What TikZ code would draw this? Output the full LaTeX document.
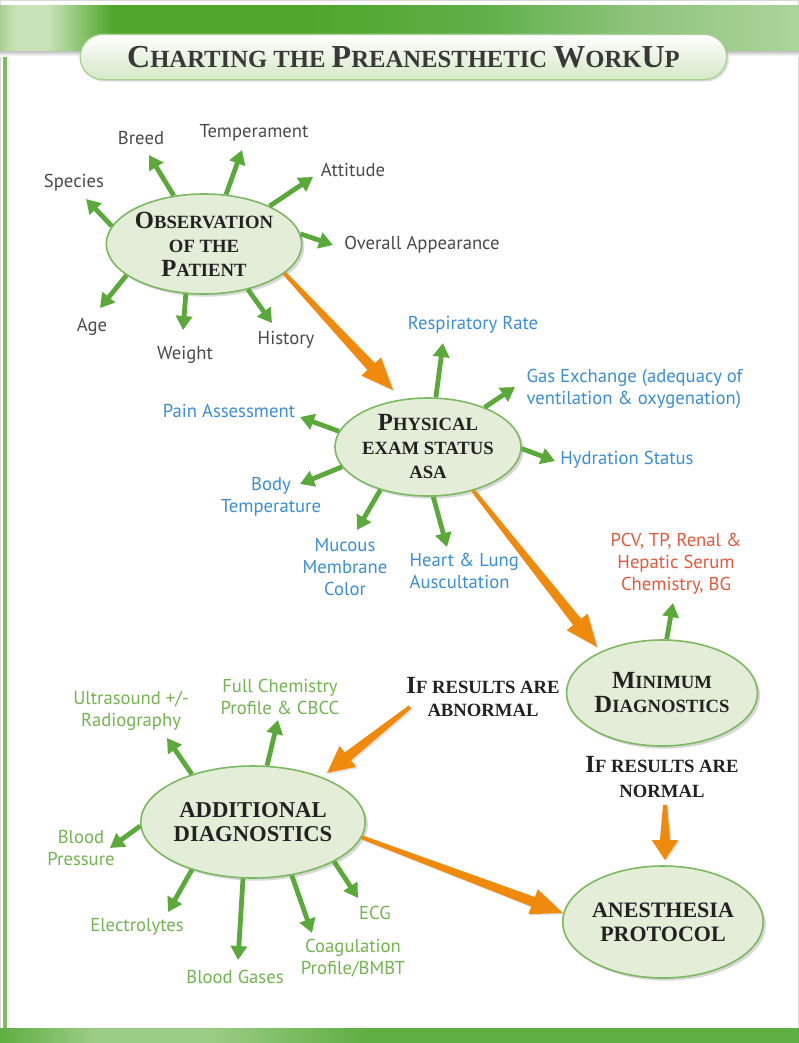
\documentclass[tikz,border=0pt]{standalone}
\usepackage{fontspec}
\setmainfont{Liberation Serif}
\newfontfamily\lblfont{PT Sans}
\usetikzlibrary{arrows.meta,calc,shadows,shapes.geometric}

\definecolor{gArrow}{HTML}{5BA83B}
\definecolor{oArrow}{HTML}{F08A0C}
\definecolor{ellFill}{HTML}{E3EDD7}
\definecolor{ellLine}{HTML}{7DB862}
\definecolor{txtGray}{HTML}{4A4A4A}
\definecolor{txtBlue}{HTML}{3C8FD4}
\definecolor{txtRed}{HTML}{E25A3C}
\definecolor{txtGreen}{HTML}{73B550}
\definecolor{hdText}{HTML}{222222}
\definecolor{leftLine}{HTML}{7BBF5C}
\definecolor{titleG}{HTML}{D6E8C6}
\definecolor{titleLine}{HTML}{A9CF95}
\definecolor{bandL}{HTML}{A8CF92}
\definecolor{bandLL}{HTML}{C9E3B8}
\definecolor{bandD}{HTML}{4FA62A}
\definecolor{bandM}{HTML}{5EAF48}
\definecolor{bandR}{HTML}{8FC47C}
\definecolor{bandRR}{HTML}{ACD59C}
\definecolor{bbA}{HTML}{5FAE42}
\definecolor{bbB}{HTML}{9CCD86}

\pgfdeclarehorizontalshading{topband}{100bp}{color(0bp)=(bandL); color(25bp)=(bandL); color(26bp)=(bandLL); color(28bp)=(bandLL); color(32bp)=(bandD); color(44bp)=(bandD); color(55bp)=(bandM); color(65bp)=(bandR); color(75bp)=(bandRR); color(100bp)=(bandRR)}
\pgfdeclarehorizontalshading{botband}{100bp}{color(0bp)=(bbA); color(25bp)=(bbA); color(31bp)=(bbB); color(38bp)=(bbB); color(48bp)=(bbA); color(75bp)=(bbA); color(100bp)=(bbA)}

\newcommand\Bg[2][18.5]{{\fontsize{#1}{18}\selectfont #2}}
\newcommand\oarr[4]{%
  \coordinate (#4h) at ($(#2)!#3!(#1)$);
  \fill[oArrow, drop shadow={opacity=0.2, shadow xshift=1.2pt, shadow yshift=-1.2pt}]
    ($(#1)!1.5pt!90:(#2)$) -- ($(#4h)!3.8pt!90:(#2)$) -- ($(#4h)!10pt!90:(#2)$) -- (#2)
    -- ($(#4h)!10pt!-90:(#2)$) -- ($(#4h)!3.8pt!-90:(#2)$) -- ($(#1)!1.5pt!-90:(#2)$) -- cycle;}

\tikzset{
  ell/.style={ellipse, draw=ellLine, line width=1.2pt, fill=ellFill, inner sep=0pt, align=center,
    text=hdText, font=\bfseries\fontsize{14}{18}\selectfont,
    drop shadow={opacity=0.3, shadow xshift=2pt, shadow yshift=-2pt}},
  hdlabel/.style={align=center, text=hdText, font=\bfseries\fontsize{14}{17.5}\selectfont, inner sep=1pt},
  lbl/.style={font=\lblfont\fontsize{14}{16.5}\selectfont, inner sep=1pt, align=center},
  lblG/.style={lbl, text=txtGray},
  lblB/.style={lbl, text=txtBlue},
  lblR/.style={lbl, text=txtRed},
  lblN/.style={lbl, text=txtGreen},
  garr/.style={draw=gArrow, line width=3.6pt, -{Triangle[length=10.5pt,width=12pt]}},
}

\begin{document}
\begin{tikzpicture}[x=0.75pt, y=-0.75pt]
\useasboundingbox (0,0) rectangle (799,1043);
\fill[white] (0,0) rectangle (799,1043);
\draw[black!15, line width=1pt] (0.5,0.5) rectangle (798.5,1042.5);
% frame
\fill[leftLine] (3,5) rectangle (7,1030);
\shade[top color=black!30, bottom color=white] (0,50) rectangle (799,56);
\shade[shading=topband] (0,5) rectangle (799,50);
\shade[shading=botband] (0,1028) rectangle (799,1043);

% title
\node[draw=titleLine, line width=1pt, rounded corners=17pt, top color=white, bottom color=titleG,
  minimum width=485pt, minimum height=34pt, inner sep=0pt, text=hdText!90!white,
  font=\bfseries\fontsize{18.5}{22}\selectfont,
  drop shadow={opacity=0.25, shadow xshift=1.5pt, shadow yshift=-1.5pt}] (title) at (403.5,57)
  {\Bg[24]{C}HARTING THE \Bg[24]{P}REANESTHETIC \Bg[24]{W}ORK\Bg[24]{U}P};

% main ellipses
\node[ell, minimum width=133.5pt, minimum height=75pt] (obs) at (204,244)
  {\Bg{O}BSERVATION\\OF THE\\\Bg{P}ATIENT};
\node[ell, minimum width=120pt, minimum height=73.5pt] (phys) at (428,447)
  {\Bg{P}HYSICAL\\EXAM STATUS\\ASA};
\node[ell, minimum width=135pt, minimum height=79.5pt] (mind) at (662,693)
  {\Bg{M}INIMUM\\\Bg{D}IAGNOSTICS};
\node[ell, minimum width=150pt, minimum height=84pt, font=\bfseries\fontsize{17}{17.5}\selectfont] (add) at (253,822)
  {ADDITIONAL\\DIAGNOSTICS};
\node[ell, minimum width=135pt, minimum height=84pt, font=\bfseries\fontsize{16.5}{18}\selectfont] (anes) at (663,922)
  {ANESTHESIA\\PROTOCOL};

\node[hdlabel] (abn) at (483,697) {\Bg{I}F RESULTS ARE\\ABNORMAL};
\node[hdlabel, font=\bfseries\fontsize{14}{18.5}\selectfont] (norm) at (662,777) {\Bg{I}F RESULTS ARE\\NORMAL};

% observation labels
\node[lblG] (species) at (74,183) {Species};
\node[lblG] (breed) at (141,138) {Breed};
\node[lblG] (temper) at (254,133) {Temperament};
\node[lblG] (attitude) at (353,170) {Attitude};
\node[lblG] (overall) at (422,245) {Overall Appearance};
\node[lblG] (age) at (92,327) {Age};
\node[lblG] (weight) at (185,355) {Weight};
\node[lblG] (history) at (286,340) {History};

\coordinate (tSpecies) at (86,199);
\coordinate (tBreed) at (149,155);
\coordinate (tTemper) at (242,150);
\coordinate (tAttitude) at (313,177);
\coordinate (tOverall) at (333,245);
\coordinate (tHistory) at (272,323);
\coordinate (tWeight) at (183,330);
\coordinate (tAge) at (100,308);

\draw[garr] (obs.169) -- (tSpecies);
\draw[garr] (obs.122) -- (tBreed);
\draw[garr] (obs.66) -- (tTemper);
\draw[garr] (obs.30) -- (tAttitude);
\draw[garr] (obs.6) -- (tOverall);
\draw[garr] (obs.-46) -- (tHistory);
\draw[garr] (obs.-110) -- (tWeight);
\draw[garr] (obs.-158) -- (tAge);

% physical labels
\node[lblB] (resp) at (473,325) {Respiratory Rate};
\node[lblB, anchor=west, align=left] (gas) at (525,389) {Gas Exchange (adequacy of\\ventilation \& oxygenation)};
\node[lblB] (hyd) at (627,460) {Hydration Status};
\node[lblB] (pain) at (229,411) {Pain Assessment};
\node[lblB] (body) at (271,497) {Body\\Temperature};
\node[lblB] (mucous) at (345,567) {Mucous\\Membrane\\Color};
\node[lblB, anchor=west, align=left] (heart) at (408,571) {Heart \& Lung\\Auscultation};

\coordinate (tResp) at (443,343);
\coordinate (tGas) at (515,387);
\coordinate (tHyd) at (555,461);
\coordinate (tPain) at (300,417);
\coordinate (tBody) at (300,484);
\coordinate (tMucous) at (357,530);
\coordinate (tHeart) at (447,547);

\draw[garr] (phys.81) -- (tResp);
\draw[garr] (phys.35) -- (tGas);
\draw[garr] (phys.-1) -- (tHyd);
\draw[garr] (phys.170) -- (tPain);
\draw[garr] (phys.-167) -- (tBody);
\draw[garr] (phys.-138) -- (tMucous);
\draw[garr] (phys.-84) -- (tHeart);

% minimum
\node[lblR] (pcv) at (676,564) {PCV, TP, Renal \&\\Hepatic Serum\\Chemistry, BG};
\coordinate (tPcv) at (673,603);
\draw[garr] (mind.85) -- (tPcv);

% additional labels
\node[lblN] (ultra) at (131,711) {Ultrasound +/-\\Radiography};
\node[lblN] (fullchem) at (280,697) {Full Chemistry\\Profile \& CBCC};
\node[lblN] (bp) at (81,848) {Blood\\Pressure};
\node[lblN] (electro) at (137,927) {Electrolytes};
\node[lblN] (gases) at (235,977) {Blood Gases};
\node[lblN] (coag) at (353,958) {Coagulation\\Profile/BMBT};
\node[lblN] (ecg) at (375,913) {ECG};

\coordinate (tUltra) at (167,738);
\coordinate (tFull) at (278,720);
\coordinate (tBp) at (110,848);
\coordinate (tElectro) at (168,912);
\coordinate (tGases) at (238,960);
\coordinate (tCoag) at (312,933);
\coordinate (tEcg) at (358,898);

\draw[garr] (add.142) -- (tUltra);
\draw[garr] (add.76) -- (tFull);
\draw[garr] (add.-178) -- (tBp);
\draw[garr] (add.-142) -- (tElectro);
\draw[garr] (add.-100) -- (tGases);
\draw[garr] (add.-54) -- (tCoag);
\draw[garr] (add.-26) -- (tEcg);

% orange flow arrows
\coordinate (oPhys) at (393,390);
\coordinate (oMin) at (597,647);
\coordinate (oAbnTail) at (410,707);
\coordinate (oAdd) at (327,773);
\coordinate (oAnes) at (563,913);
\coordinate (oNormTail) at (665,805);
\coordinate (oAnes2) at (665,860);

\oarr{obs.-20}{oPhys}{24pt}{a1}
\oarr{phys.-44}{oMin}{24pt}{a2}
\oarr{oAbnTail}{oAdd}{20pt}{a3}
\oarr{add.-8}{oAnes}{24pt}{a4}
\oarr{oNormTail}{oAnes2}{15pt}{a5}
\end{tikzpicture}
\end{document}
